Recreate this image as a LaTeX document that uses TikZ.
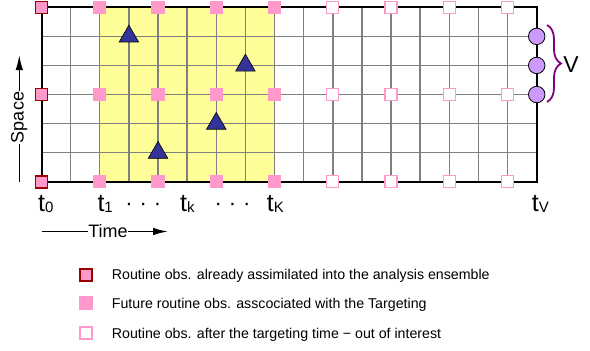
\documentclass[tikz,border=0pt]{standalone}
\usepackage{fontspec}
\setmainfont{Liberation Sans}
\usetikzlibrary{shapes.geometric,decorations.pathreplacing,arrows.meta,calc}
\definecolor{obspink}{HTML}{FF99CC}
\definecolor{darkred}{HTML}{990000}
\definecolor{zoneyellow}{HTML}{FFFF99}
\definecolor{trinavy}{HTML}{333399}
\definecolor{bracepurple}{HTML}{800080}
\definecolor{verlav}{HTML}{CC99FF}
\definecolor{gridgray}{HTML}{808080}
\newcommand\tlab[1]{t\raisebox{-1.5pt}{\fontsize{15}{17}\selectfont #1}}
\begin{document}
\begin{tikzpicture}[x=1pt,y=-1pt,
  oldobs/.style={rectangle,draw=darkred,fill=obspink,line width=1.6pt,minimum size=12pt,inner sep=0pt},
  newobs/.style={rectangle,fill=obspink,minimum size=13.3pt,inner sep=0pt},
  outobs/.style={rectangle,draw=obspink,fill=white,line width=1.2pt,minimum size=12pt,inner sep=0pt},
  tri/.style={regular polygon,regular polygon sides=3,minimum size=22.5pt,inner sep=0pt,fill=trinavy,draw=black,line width=0.6pt},
  verif/.style={circle,minimum size=16.5pt,inner sep=0pt,fill=verlav,draw=black,line width=0.8pt},
  tlabel/.style={anchor=base west,inner sep=0pt,font=\fontsize{25}{28}\selectfont},
  dotlabel/.style={anchor=base,inner sep=0pt,font=\fontsize{22}{26}\selectfont},
  axislabel/.style={font=\fontsize{18}{22}\selectfont,inner sep=0.5pt},
  legtext/.style={anchor=base west,inner sep=0pt,font=\fontsize{14.2}{16}\selectfont},
  axisarrow/.style={line width=1.5pt,-{Latex[length=15pt,width=7.5pt]}},
  axisline/.style={line width=1.5pt},
  gridline/.style={gridgray,line width=1.4pt}
]
\useasboundingbox (0,0) rectangle (590,351);
\begin{scope}[shift={(41.5,7.3)},x=29.13pt,y=-29.07pt]
  \fill[zoneyellow] (2,0) rectangle (8,6);
  \foreach \i in {1,...,16} \draw[gridline] (\i,0) -- (\i,6);
  \foreach \j in {1,...,5} \draw[gridline] (0,\j) -- (17,\j);
  \draw[black,line width=2pt] (0,0) rectangle (17,6);
  \foreach \j in {0,3,6} \node[oldobs] (o0\j) at (0,\j) {};
  \foreach \i in {2,4,6,8} \foreach \j in {0,3,6} \node[newobs] (n\i\j) at (\i,\j) {};
  \foreach \i in {10,12,14,16} \foreach \j in {0,3,6} \node[outobs] (f\i\j) at (\i,\j) {};
  \node[tri] (tr1) at (3,1) {};
  \node[tri] (tr2) at (7,2) {};
  \node[tri] (tr3) at (6,4) {};
  \node[tri] (tr4) at (4,5) {};
  \node[verif] (v1) at (17,1) {};
  \node[verif] (v2) at (17,2) {};
  \node[verif] (v3) at (17,3) {};
\end{scope}
% brace
\coordinate (bt) at (547,25);
\coordinate (bb) at (547,102);
\draw[bracepurple,line width=1.8pt,decorate,decoration={brace,amplitude=14pt}] (bt) -- (bb);
\node[font=\fontsize{23}{26}\selectfont,inner sep=0pt] (vlab) at (571,65) {V};
% time labels
\node[tlabel] (t0) at (38,211) {\tlab{0}};
\node[tlabel] (t1) at (97.3,211) {\tlab{1}};
\node[tlabel] (tk) at (180,211) {\tlab{k}};
\node[tlabel] (tK) at (266.7,211) {\tlab{K}};
\node[tlabel] (tV) at (531.7,211) {\tlab{V}};
\node[dotlabel] (d1) at (143.3,210.5) {·\hspace{7pt}·\hspace{7pt}·};
\node[dotlabel] (d2) at (232.5,210.5) {·\hspace{7pt}·\hspace{7pt}·};
% axes
\coordinate (sb) at (19.3,182);
\coordinate (st) at (19.3,55);
\node[axislabel,rotate=90] (space) at (19.3,117.5) {Space};
\draw[axisline] (sb) -- (sb |- space.west);
\draw[axisarrow] (st |- space.east) -- (st);
\coordinate (tl) at (41.7,231.5);
\coordinate (tr) at (168,231.5);
\node[axislabel] (time) at (108,231.5) {Time};
\draw[axisline] (tl) -- (tl -| time.west);
\draw[axisarrow] (tr -| time.east) -- (tr);
% legend
\node[oldobs] (l1) at (86,275) {};
\node[newobs] (l2) at (86,303) {};
\node[outobs] (l3) at (86,333) {};
\node[legtext] (lt1) at (111.7,279.3) {Routine obs. already assimilated into the analysis ensemble};
\node[legtext] (lt2) at (111.7,308.3) {Future routine obs. asscociated with the Targeting};
\node[legtext] (lt3) at (111.7,338.3) {Routine obs. after the targeting time − out of interest};
\end{tikzpicture}
\end{document}
